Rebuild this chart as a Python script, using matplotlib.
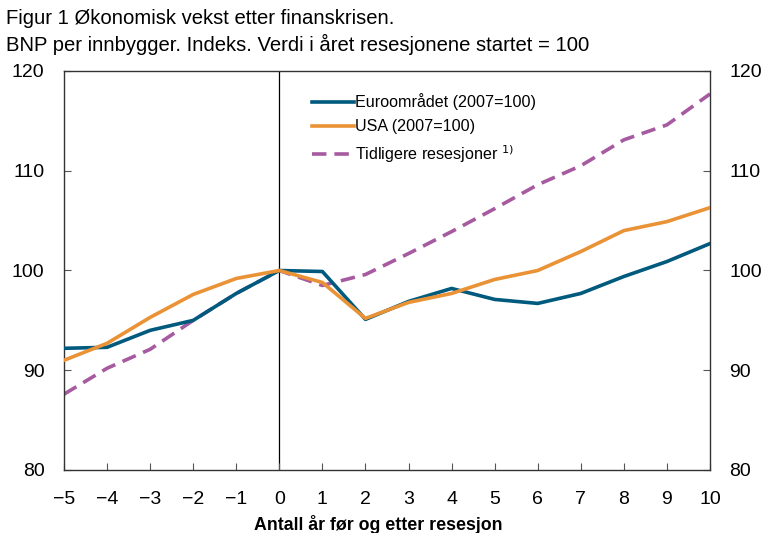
import matplotlib
matplotlib.use("Agg")
import matplotlib.pyplot as plt

plt.rcParams['font.family'] = ['Liberation Sans', 'DejaVu Sans']

years = list(range(-5, 11))
euro = [92.2, 92.3, 94.0, 95.0, 97.7, 100.0, 99.9, 95.1, 96.9, 98.2, 97.1, 96.7, 97.7, 99.4, 100.9, 102.7]
usa = [91.0, 92.7, 95.3, 97.6, 99.2, 100.0, 98.8, 95.2, 96.8, 97.7, 99.1, 100.0, 101.9, 104.0, 104.9, 106.3]
earlier = [87.6, 90.2, 92.1, 95.0, 97.7, 100.0, 98.5, 99.6, 101.7, 103.9, 106.2, 108.6, 110.5, 113.1, 114.6, 117.7]

xticklabels = ['\u22125', '\u22124', '\u22123', '\u22122', '\u22121', '0', '1', '2', '3', '4', '5', '6', '7', '8', '9', '10']
yticks = [80, 90, 100, 110, 120]

labels = ['Euroområdet (2007=100)', 'USA (2007=100)', 'Tidligere resesjoner $^{1)}$']
colors = ['#005a7e', '#ea9236', '#a65aa0']

fig = plt.figure(figsize=(7.64, 5.33), dpi=100)
ax = fig.add_axes([64/764, 1 - 470/533, (710-64)/764, (470-71)/533])

ax.plot(years, euro, color=colors[0], lw=2.6, label=labels[0], zorder=3)
ax.plot(years, usa, color=colors[1], lw=2.6, label=labels[1], zorder=4)
ax.plot(years, earlier, color=colors[2], lw=2.6, ls=(0, (4, 2.2)), label=labels[2], zorder=2)
ax.axvline(0, color='black', lw=0.9, zorder=1)

ax.set_xlim(-5, 10)
ax.set_ylim(80, 120)
ax.set_xticks(years)
ax.set_xticklabels(xticklabels, fontsize=14)
ax.set_yticks(yticks)
ax.tick_params(axis='y', which='both', direction='in', left=True, right=True,
               labelleft=True, labelright=True, labelsize=14, length=5, color='#555555', pad=14)
ax.tick_params(axis='x', direction='in', length=5, color='#555555', pad=15)
for s in ax.spines.values():
    s.set_color('#333333')
    s.set_linewidth(1.0)

fig.text(378/764, 1 - 525/533, 'Antall år før og etter resesjon', fontsize=12.8, fontweight='bold',
         ha='center', va='center')

leg = ax.legend(loc='upper left', bbox_to_anchor=(0.362, 0.98), frameon=False, fontsize=11.6,
                handlelength=2.6, handletextpad=0.05, labelspacing=0.55)

fig.text(6/764, 1 - 18/533, 'Figur 1 Økonomisk vekst etter finanskrisen.', fontsize=14.6, va='center', ha='left')
fig.text(6/764, 1 - 44/533, 'BNP per innbygger. Indeks. Verdi i året resesjonene startet = 100', fontsize=14.6, va='center', ha='left')

fig.savefig('out.png', dpi=100)
